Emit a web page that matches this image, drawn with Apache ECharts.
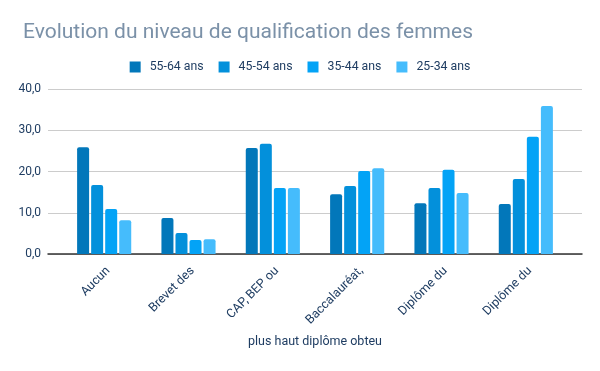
<!DOCTYPE html>
<html><head><meta charset="utf-8">
<script src="https://cdn.jsdelivr.net/npm/echarts@6/dist/echarts.min.js"></script>
<style>html,body{margin:0;padding:0;background:#fff}#c{width:600px;height:371px}</style>
</head><body><div id="c"></div>
<script>
const categories = ["Aucun", "Brevet des", "CAP, BEP ou", "Baccalauréat,", "Diplôme du", "Diplôme du"];
const seriesNames = ["55-64 ans", "45-54 ans", "35-44 ans", "25-34 ans"];
const s5564 = [25.9, 8.7, 25.7, 14.5, 12.3, 12.1];
const s4554 = [16.7, 5.1, 26.7, 16.5, 16.0, 18.2];
const s3544 = [10.9, 3.4, 16.0, 20.1, 20.4, 28.4];
const s2534 = [8.2, 3.6, 16.0, 20.8, 14.8, 35.9];
const colors = ["#0277BA", "#0390DB", "#03A3F6", "#45BCFC"];
const titleText = "Evolution du niveau de qualification des femmes";
const xAxisTitle = "plus haut diplôme obteu";

const data = [s5564, s4554, s3544, s2534];
const txt = '#1F3D62';
const chart = echarts.init(document.getElementById('c'));
chart.setOption({
  animation: false,
  title: { text: titleText, left: 18, top: 17, textStyle: { fontFamily: 'Roboto', fontSize: 21, fontWeight: 'normal', color: '#7B91A8' } },
  legend: { top: 56, left: 'center', itemWidth: 11, itemHeight: 11, itemGap: 15, icon: 'rect',
    textStyle: { fontFamily: 'Roboto', fontSize: 12.3, color: txt, padding: [0, 0, 0, 4] }, data: seriesNames },
  grid: [
    { left: 48, right: 18, top: 89, bottom: 117 },
    { left: 62, right: 32, top: 89, bottom: 117 },
    { left: 66, right: 28, top: 89, bottom: 117 }
  ],
  xAxis: [
    { gridIndex: 0, type: 'category', data: categories,
      axisLine: { lineStyle: { color: '#333', width: 1.5 } }, axisTick: { show: false }, axisLabel: { show: false } },
    { gridIndex: 1, type: 'category', data: categories,
      axisLine: { show: false }, axisTick: { show: false }, axisLabel: { show: false } },
    { gridIndex: 2, type: 'category', data: categories,
      axisLine: { show: false }, axisTick: { show: false },
      axisLabel: { rotate: 45, fontFamily: 'Roboto', fontSize: 12.5, color: txt, margin: 15, interval: 0 } }
  ],
  yAxis: [
    { gridIndex: 0, type: 'value', min: 0, max: 40, interval: 10,
      axisLine: { show: false }, axisTick: { show: false },
      splitLine: { lineStyle: { color: '#CCCCCC' } },
      axisLabel: { fontFamily: 'Roboto', fontSize: 12, color: txt, margin: 7, formatter: v => v.toFixed(1).replace('.', ',') } },
    { gridIndex: 1, type: 'value', min: 0, max: 40, interval: 10, show: false },
    { gridIndex: 2, type: 'value', min: 0, max: 40, interval: 10, show: false }
  ],
  graphic: [{ type: 'text', x: 315, y: 335, style: { text: xAxisTitle, font: '12.5px Roboto', fill: txt, textAlign: 'center' } }],
  series: seriesNames.map((n, i) => ({ name: n, type: 'bar', xAxisIndex: 1, yAxisIndex: 1, data: data[i], barWidth: 12, barGap: '17%',
    itemStyle: { color: colors[i], borderRadius: [2, 2, 0, 0] } }))
});
</script></body></html>
